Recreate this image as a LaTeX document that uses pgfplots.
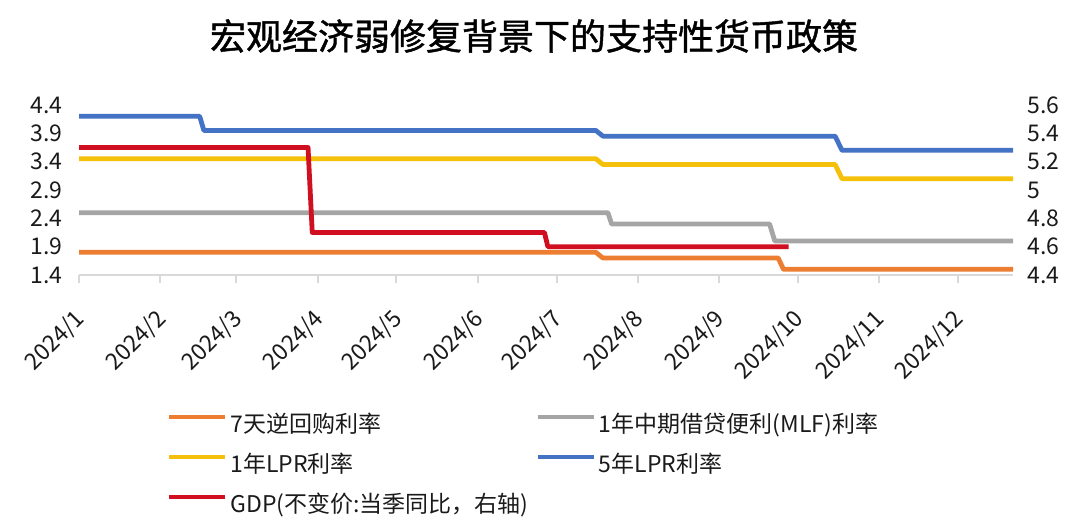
\documentclass[border=0pt]{standalone}
\usepackage{fontspec}
\setmainfont{Noto Sans CJK SC}
\newfontfamily\titlefont[FakeBold=1.2]{Noto Sans CJK SC}
\usepackage{pgfplots}
\pgfplotsset{compat=1.18}
\definecolor{cOrange}{RGB}{237,125,49}
\definecolor{cGray}{RGB}{165,165,165}
\definecolor{cYellow}{RGB}{244,192,10}
\definecolor{cBlue}{RGB}{68,114,196}
\definecolor{cRed}{RGB}{208,16,32}
\definecolor{axisGray}{RGB}{217,217,217}
\definecolor{txt}{RGB}{26,26,26}

\begin{document}
\begin{tikzpicture}
\useasboundingbox (0pt,0pt) rectangle (540pt,-264pt);

% title
\node[font=\titlefont\fontsize{18}{20}\selectfont, text=black] at (267pt,-18pt)
    {宏观经济弱修复背景下的支持性货币政策};

% left axis: policy rates
\begin{axis}[
    name=main,
    at={(39.5pt,-137.5pt)}, anchor=south west,
    scale only axis, width=467pt, height=85pt,
    xmin=0, xmax=356, ymin=1.4, ymax=4.4,
    clip=false,
    axis y line*=left, axis x line*=bottom,
    y axis line style={draw=none},
    x axis line style={draw=axisGray, line width=1pt},
    tick align=outside, major tick length=4pt,
    xtick style={draw=axisGray, line width=1pt},
    ytick style={draw=none},
    xtick={0,31,60,91,121,152,182,213,244,274,305,335},
    xticklabels={2024/1,2024/2,2024/3,2024/4,2024/5,2024/6,2024/7,2024/8,2024/9,2024/10,2024/11,2024/12},
    xticklabel style={xshift=1pt, yshift=-16pt, rotate=45, anchor=east, inner sep=0pt,
        font=\fontsize{11.5}{12}\selectfont, text=txt},
    ytick={1.4,1.9,2.4,2.9,3.4,3.9,4.4},
    yticklabels={1.4,1.9,2.4,2.9,3.4,3.9,4.4},
    yticklabel style={font=\fontsize{11.5}{12}\selectfont, text=txt, inner sep=0pt, xshift=-4pt},
    every axis plot/.append style={line width=2.4pt, line join=round},
    legend columns=2,
    legend cell align=left,
    legend image code/.code={\draw[#1, line width=2.2pt] (0pt,3.5pt) -- (28pt,3.5pt);},
    legend style={at={(0.0942,-0.812)}, anchor=north west, draw=none, fill=none,
        inner sep=0pt, outer sep=0pt,
        font=\fontsize{11.5}{13}\selectfont, text=txt,
        row sep=8.7pt,
        nodes={inner sep=0pt},
        /tikz/every odd column/.append style={column sep=1.5pt},
        /tikz/every even column/.append style={column sep=3.5pt}},
]
\addplot[color=cOrange] coordinates {
    (0,1.8) (197,1.8) (199.7,1.7) (266.5,1.7) (268.5,1.5) (356,1.5)
};
\addlegendentry{7天逆回购利率}
\addplot[color=cGray] coordinates {
    (0,2.5) (201.6,2.5) (203,2.3) (263.2,2.3) (265.2,2.0) (356,2.0)
};
\addlegendentry{1年中期借贷便利(MLF)利率}
\addplot[color=cYellow] coordinates {
    (0,3.45) (197,3.45) (199.7,3.35) (288.2,3.35) (290.8,3.1) (356,3.1)
};
\addlegendentry{1年LPR利率}
\addplot[color=cBlue] coordinates {
    (0,4.2) (46,4.2) (47.6,3.95) (197,3.95) (199.7,3.85) (288.2,3.85) (290.8,3.6) (356,3.6)
};
\addlegendentry{5年LPR利率}
\addlegendimage{color=cRed}
\addlegendentry{GDP(不变价:当季同比，右轴)}
\end{axis}

% right axis: GDP
\begin{axis}[
    at={(39.5pt,-137.5pt)}, anchor=south west,
    scale only axis, width=467pt, height=85pt,
    xmin=0, xmax=356, ymin=4.4, ymax=5.6,
    clip=false,
    axis y line*=right, axis x line=none,
    y axis line style={draw=none},
    tick align=outside, major tick length=4pt,
    ytick style={draw=none},
    ytick={4.4,4.6,4.8,5.0,5.2,5.4,5.6},
    yticklabels={4.4,4.6,4.8,5,5.2,5.4,5.6},
    yticklabel style={font=\fontsize{11.5}{12}\selectfont, text=txt, inner sep=0pt, xshift=3pt},
]
\addplot[color=cRed, line width=2.4pt, line join=round] coordinates {
    (0,5.3) (87.3,5.3) (88.9,4.7) (177.4,4.7) (178.7,4.6) (270.5,4.6)
};
\end{axis}
\end{tikzpicture}
\end{document}
